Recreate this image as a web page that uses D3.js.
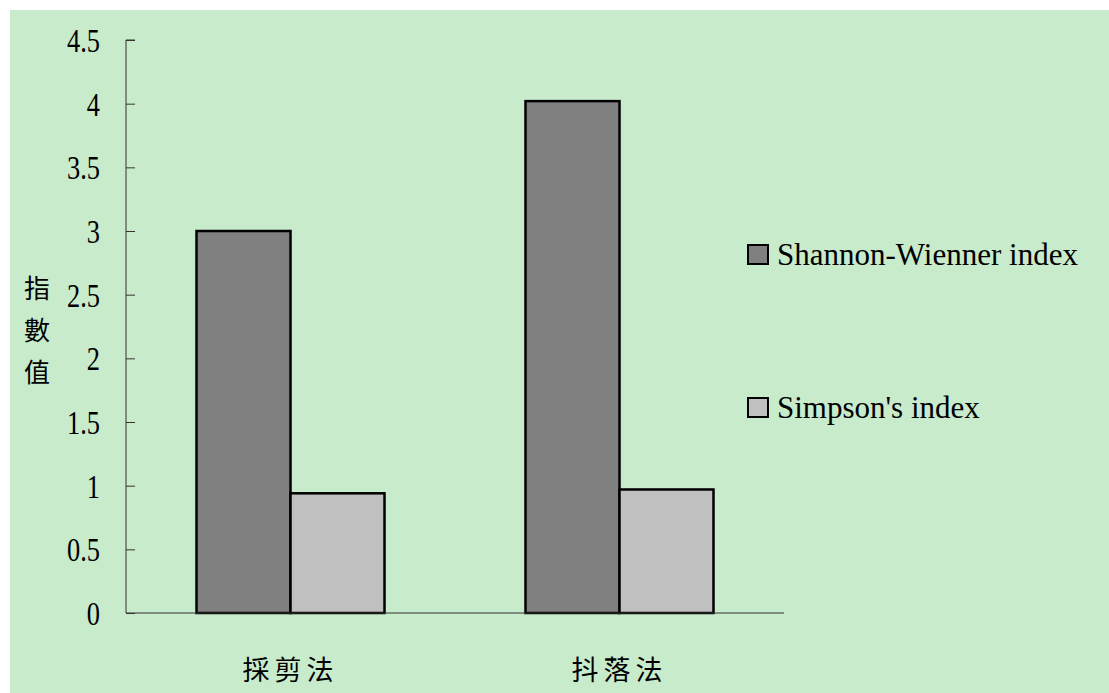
<!DOCTYPE html>
<html>
<head>
<meta charset="utf-8">
<script src="https://cdn.jsdelivr.net/npm/d3@7"></script>
<style>
  body { margin: 0; background: #fff; }
  svg { display: block; }
</style>
</head>
<body>
<div id="chart"></div>
<script>
const categories = ['採剪法', '抖落法'];
const seriesNames = ['Shannon-Wienner index', "Simpson's index"];
const shannon = [3.0, 4.02];
const simpson = [0.94, 0.97];
const yTicks = [0, 0.5, 1, 1.5, 2, 2.5, 3, 3.5, 4, 4.5];
const colors = ['#808080', '#c0c0c0'];

const width = 1109, height = 693;
const margin = { left: 126, right: 325, top: 40, bottom: 80 };

const svg = d3.select('#chart').append('svg')
  .attr('width', width)
  .attr('height', height);

// green chart area (white strip on top and left)
svg.append('rect')
  .attr('x', 10).attr('y', 10)
  .attr('width', width - 10).attr('height', height - 10)
  .attr('fill', '#c8ebcc');

const x = d3.scaleBand()
  .domain(categories)
  .range([margin.left, width - margin.right]);

const inner = d3.scaleBand()
  .domain(seriesNames)
  .range([0, x.bandwidth()])
  .paddingOuter(0.75);

const y = d3.scaleLinear()
  .domain([0, 4.5])
  .range([height - margin.bottom, margin.top]);

// narrow the serif glyphs a bit, the original font is condensed
function condense(sel, k) {
  sel.each(function () {
    const w = this.getComputedTextLength();
    d3.select(this).attr('textLength', w * k).attr('lengthAdjust', 'spacingAndGlyphs');
  });
}

// bars
const rows = categories.map((c, i) => ({ cat: c, vals: [shannon[i], simpson[i]] }));
const groups = svg.append('g').selectAll('g')
  .data(rows)
  .enter().append('g')
  .attr('transform', d => `translate(${x(d.cat)},0)`);

groups.selectAll('rect')
  .data(d => d.vals.map((v, j) => ({ name: seriesNames[j], v, j })))
  .enter().append('rect')
  .attr('x', d => inner(d.name))
  .attr('y', d => y(d.v))
  .attr('width', inner.bandwidth())
  .attr('height', d => y(0) - y(d.v))
  .attr('fill', d => colors[d.j])
  .attr('stroke', '#000')
  .attr('stroke-width', 2.5);

// y axis, ticks point inward
const yAxis = svg.append('g')
  .attr('transform', `translate(${margin.left},0)`)
  .call(d3.axisRight(y).tickValues(yTicks).tickSize(9).tickFormat(d3.format('')));
yAxis.select('.domain').attr('d', `M9,${y(4.5)}H0V${y(0)}`).attr('stroke', '#333');
yAxis.selectAll('.tick line').attr('stroke', '#333');
yAxis.selectAll('.tick text')
  .attr('x', -26)
  .attr('text-anchor', 'end')
  .attr('dy', '0.35em')
  .style('font-family', '"Liberation Serif", serif')
  .style('font-size', '33px')
  .style('fill', '#000')
  .call(condense, 0.8);

// x axis line
svg.append('line')
  .attr('x1', margin.left).attr('x2', width - margin.right)
  .attr('y1', y(0)).attr('y2', y(0))
  .attr('stroke', '#333');

// category labels
svg.append('g').selectAll('text')
  .data(categories)
  .enter().append('text')
  .attr('x', d => x(d) + x.bandwidth() / 2)
  .attr('y', 680)
  .attr('text-anchor', 'middle')
  .style('font-family', '"Noto Sans CJK TC", serif')
  .style('font-size', '27px')
  .style('letter-spacing', '5px')
  .text(d => d);

// y label, vertical
svg.append('g').selectAll('text')
  .data(['指', '數', '值'])
  .enter().append('text')
  .attr('x', 37)
  .attr('y', (d, i) => 298 + i * 42)
  .attr('text-anchor', 'middle')
  .style('font-family', '"Noto Sans CJK TC", serif')
  .style('font-size', '26px')
  .text(d => d);

// legend
const legend = svg.append('g').selectAll('g')
  .data(seriesNames)
  .enter().append('g')
  .attr('transform', (d, i) => `translate(748,${245 + i * 153})`);
legend.append('rect')
  .attr('width', 20).attr('height', 19)
  .attr('fill', (d, i) => colors[i])
  .attr('stroke', '#000')
  .attr('stroke-width', 2);
legend.append('text')
  .attr('x', 29)
  .attr('y', 20)
  .style('font-family', '"Liberation Serif", serif')
  .style('font-size', '31px')
  .text(d => d);
</script>
</body>
</html>
